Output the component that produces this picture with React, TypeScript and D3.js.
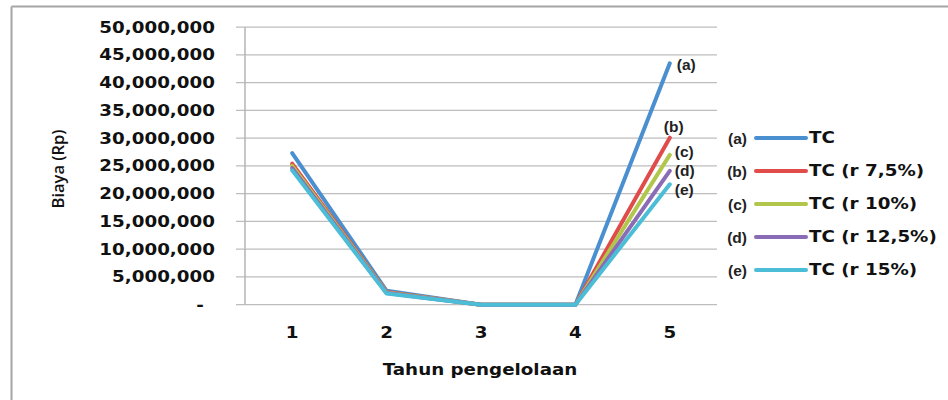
import React from "react";
import * as d3 from "d3";

const years = ["1", "2", "3", "4", "5"];
const seriesNames = ["TC", "TC (r 7,5%)", "TC (r 10%)", "TC (r 12,5%)", "TC (r 15%)"];
const seriesTags = ["(a)", "(b)", "(c)", "(d)", "(e)"];
const tcA = [27300000, 2500000, 0, 0, 43500000];
const tcB = [25400000, 2300000, 0, 0, 30100000];
const tcC = [25000000, 2200000, 0, 0, 27000000];
const tcD = [24600000, 2100000, 0, 0, 24100000];
const tcE = [24200000, 2000000, 0, 0, 21700000];
const seriesValues = [tcA, tcB, tcC, tcD, tcE];
const yTicks = [0, 5000000, 10000000, 15000000, 20000000, 25000000, 30000000, 35000000, 40000000, 45000000, 50000000];
const colors = ["#4a8fd0", "#e04c4a", "#b2c64c", "#8a6bb5", "#4cbdd6"];
const endLabelOffsets = [[7, 1], [-6, -11], [5, -3], [5, 0], [5, 5]];

const W = 948, H = 400;
const plot = { left: 245, right: 717, top: 27.2, bottom: 304.7 };
const FONT = "'DejaVu Sans', sans-serif";
const TAGFONT = "'Liberation Sans', Arial, sans-serif";
const SX = 1.22;

const x = d3.scalePoint<string>().domain(years).range([plot.left, plot.right]).padding(0.5);
const y = d3.scaleLinear().domain([0, 50000000]).range([plot.bottom, plot.top]);
const fmt = d3.format(",");

function Stretch({ x0, y0, anchor, size, children, weight = "bold" }: any) {
  return (
    <g transform={`translate(${x0},${y0}) scale(${SX},1)`}>
      <text x={0} y={0} textAnchor={anchor} dominantBaseline="central" fontFamily={FONT} fontWeight={weight} fontSize={size} fill="#111">
        {children}
      </text>
    </g>
  );
}

export default function App() {
  const line = d3.line<number>().x((_, i) => x(years[i]) as number).y((v) => y(v));
  return (
    <svg width={W} height={H} style={{ position: "absolute", left: 0, top: 0, background: "#fff" }}>
      <rect x={0} y={0} width={W} height={H} fill="#fff" />
      {/* outer frame */}
      <line x1={11.5} y1={6.5} x2={W} y2={6.5} stroke="#a6a6a6" strokeWidth={2} />
      <line x1={11.5} y1={6.5} x2={11.5} y2={H} stroke="#a6a6a6" strokeWidth={2} />
      {/* gridlines */}
      {yTicks.map((t) => (
        <line key={t} x1={236} x2={plot.right} y1={y(t)} y2={y(t)} stroke="#bdbdbd" strokeWidth={1.2} />
      ))}
      <line x1={plot.left} x2={plot.left} y1={plot.top} y2={plot.bottom} stroke="#b5b5b5" strokeWidth={1.5} />
      {/* y tick labels */}
      {yTicks.map((t) =>
        t === 0 ? (
          <Stretch key={t} x0={200} y0={y(t)} anchor="middle" size={15}>-</Stretch>
        ) : (
          <Stretch key={t} x0={215} y0={y(t)} anchor="end" size={15}>{fmt(t)}</Stretch>
        )
      )}
      {/* x tick labels */}
      {years.map((c) => (
        <Stretch key={c} x0={x(c)} y0={333} anchor="middle" size={15}>{c}</Stretch>
      ))}
      <Stretch x0={480} y0={370} anchor="middle" size={15}>Tahun pengelolaan</Stretch>
      <text transform="translate(64,169) rotate(-90)" textAnchor="middle" fontFamily="'Open Sans', sans-serif" fontWeight={600} fontSize={16.5} fill="#111">
        Biaya (Rp)
      </text>
      {/* series */}
      {seriesValues.map((vals, i) => (
        <path key={i} d={line(vals) as string} fill="none" stroke={colors[i]} strokeWidth={4} strokeLinejoin="round" strokeLinecap="round" />
      ))}
      {/* end labels */}
      {seriesValues.map((vals, i) => (
        <text key={i} x={(x(years[4]) as number) + endLabelOffsets[i][0]} y={y(vals[4]) + endLabelOffsets[i][1]}
          dominantBaseline="central" fontFamily={TAGFONT} fontWeight="bold" fontSize={15.5} fill="#222">
          {seriesTags[i]}
        </text>
      ))}
      {/* legend */}
      {seriesNames.map((n, i) => {
        const cy = 138 + i * 33;
        return (
          <g key={n}>
            <text x={747} y={cy} textAnchor="end" dominantBaseline="central" fontFamily={TAGFONT} fontWeight="bold" fontSize={15.5} fill="#222">
              {seriesTags[i]}
            </text>
            <line x1={756} x2={806} y1={cy} y2={cy} stroke={colors[i]} strokeWidth={4} strokeLinecap="round" />
            <Stretch x0={809} y0={cy} anchor="start" size={15}>{n}</Stretch>
          </g>
        );
      })}
    </svg>
  );
}
